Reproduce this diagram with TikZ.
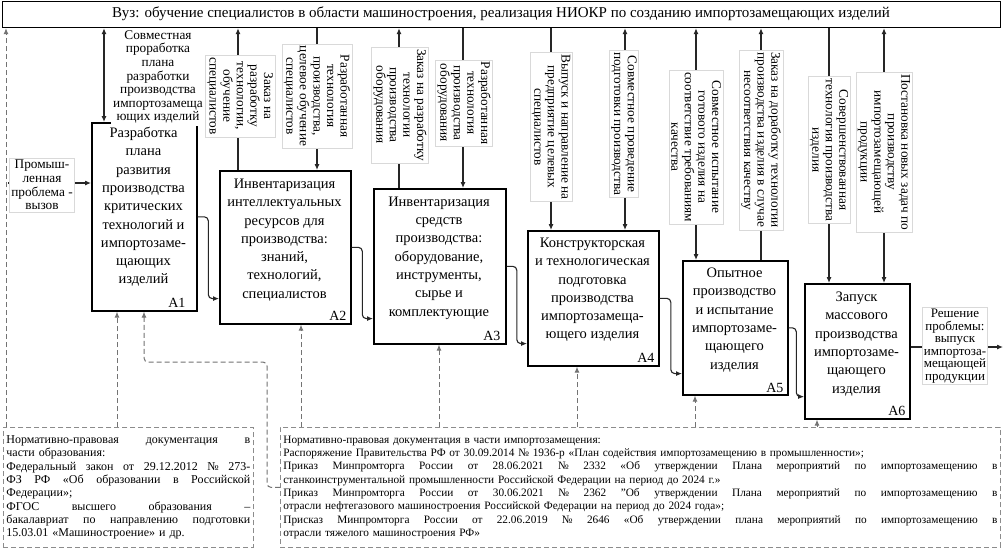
\documentclass[tikz,border=0pt]{standalone}
\usepackage{fontspec}
\setmainfont{Liberation Serif}
\usetikzlibrary{arrows.meta,calc}
\newcommand\jl[1]{\hbox to \hsize{\spaceskip=0.25em plus 1fil\relax #1}}
\begin{document}
\begin{tikzpicture}[x=1pt,y=-1pt,
  proc/.style={draw, line width=1.6pt, fill=white, inner sep=0pt, anchor=north west},
  ptext/.style={align=center, font=\fontsize{14.5}{18.3}\selectfont, inner sep=0pt},
  tag/.style={font=\fontsize{14}{14}\selectfont, anchor=south east, inner sep=0pt},
  lab/.style={fill=white, draw=black!15, line width=0.4pt, align=center, font=\fontsize{13.3}{13.6}\selectfont, inner sep=2pt},
  vlab/.style={lab, rotate=-90},
  flow/.style={line width=1.1pt, draw=black!85, rounded corners=4pt},
  tip/.style={-{Latex[length=6pt,width=5pt]}},
  both/.style={{Latex[length=6pt,width=5pt]}-{Latex[length=6pt,width=5pt]}},
  mech/.style={draw=black!55, line width=1pt, dash pattern=on 5pt off 3pt, rounded corners=4pt},
  norm/.style={draw=black!45, line width=0.8pt, dash pattern=on 5pt off 3pt, anchor=north west, inner sep=3pt, align=left, font=\fontsize{11.3}{13.3}\selectfont}
]
\useasboundingbox[fill=white] (0,0) rectangle (1004,550);

% top box
\node[proc, line width=1.2pt, minimum width=998pt, minimum height=26pt] (top) at (2,1) {};
\node[font=\fontsize{15}{15}\selectfont, inner sep=0pt] (toptext) at (501,14) {Вуз: обучение специалистов в области машиностроения, реализация НИОКР по созданию импортозамещающих изделий};

% process boxes
\node[proc, minimum width=105pt, minimum height=188pt] (A1) at (91,122) {};
\node[proc, minimum width=131pt, minimum height=153pt] (A2) at (219,170) {};
\node[proc, minimum width=132pt, minimum height=155pt] (A3) at (373,188) {};
\node[proc, minimum width=131pt, minimum height=135pt] (A4) at (527,230) {};
\node[proc, minimum width=105pt, minimum height=134pt] (A5) at (682,260) {};
\node[proc, minimum width=105pt, minimum height=135pt] (A6) at (804,283) {};

\node[ptext] (A1t) at (143.5,207) {Разработка\\плана\\развития\\производства\\критических\\технологий и\\импортозаме-\\щающих\\изделий};
\node[ptext] (A2t) at (284.5,240) {Инвентаризация\\интеллектуальных\\ресурсов для\\производства:\\знаний,\\технологий,\\специалистов};
\node[ptext] (A3t) at (439,258) {Инвентаризация\\средств\\производства:\\оборудование,\\инструменты,\\сырье и\\комплектующие};
\node[ptext] (A4t) at (592.5,290) {Конструкторская\\и технологическая\\подготовка\\производства\\импортозамеща-\\ющего изделия};
\node[ptext] (A5t) at (734.5,320) {Опытное\\производство\\и испытание\\импортозаме-\\щающего\\изделия};
\node[ptext] (A6t) at (856.5,344) {Запуск\\массового\\производства\\импортозаме-\\щающего\\изделия};

\node[tag] (T1) at ([xshift=-12pt,yshift=4pt]A1.south east) {A1};
\node[tag] (T2) at ([xshift=-5pt,yshift=4pt]A2.south east) {A2};
\node[tag] (T3) at ([xshift=-6pt,yshift=4pt]A3.south east) {A3};
\node[tag] (T4) at ([xshift=-5pt,yshift=4pt]A4.south east) {A4};
\node[tag] (T5) at ([xshift=-5pt,yshift=3pt]A5.south east) {A5};
\node[tag] (T6) at ([xshift=-5pt,yshift=4pt]A6.south east) {A6};

% flow between processes
\coordinate (i2) at ([yshift=26pt]A2.south west);
\coordinate (i3) at ([yshift=26pt]A3.south west);
\coordinate (i4) at ([yshift=23pt]A4.south west);
\coordinate (i5) at ([yshift=22pt]A5.south west);
\coordinate (i6) at ([yshift=23pt]A6.south west);
\coordinate (m12) at ($(A1.east)!.5!(A2.west)$);
\coordinate (m23) at ($(A2.east)!.5!(A3.west)$);
\coordinate (m34) at ($(A3.east)!.5!(A4.west)$);
\coordinate (m45) at ($(A4.east)!.5!(A5.west)$);
\coordinate (m56) at ($(A5.east)!.5!(A6.west)$);
\draw[flow,tip] (A1.east) -- (m12 |- A1.east) -- (m12 |- i2) -- (i2);
\draw[flow,tip] (A2.east) -- (m23 |- A2.east) -- (m23 |- i3) -- (i3);
\draw[flow,tip] (A3.east) -- (m34 |- A3.east) -- (m34 |- i4) -- (i4);
\draw[flow,tip] (A4.east) -- (m45 |- A4.east) -- (m45 |- i5) -- (i5);
\draw[flow,tip] (A5.east) -- (m56 |- A5.east) -- (m56 |- i6) -- (i6);

% input and output
\coordinate (in0) at (8,183);
\draw[flow,tip] (in0) -- (A1.west |- in0);
\node[lab] (inl) at (42,185) {Промыш-\\ленная\\проблема -\\вызов};
\coordinate (out0) at (1003,347);
\draw[flow,tip] (A6.east |- out0) -- (out0);
\node[lab, font=\fontsize{13}{12.5}\selectfont, inner sep=1.5pt] (outl) at (955,346) {Решение\\проблемы:\\выпуск\\импортоза-\\мещающей\\продукции};

% vertical connectors with the top box
\coordinate (c1) at (104,0);
\coordinate (c2) at (238,0);
\coordinate (c3) at (317,0);
\coordinate (c4) at (399,0);
\coordinate (c5) at (463,0);
\coordinate (c6) at (551,0);
\coordinate (c7) at (625,0);
\coordinate (c8) at (696,0);
\coordinate (c9) at (761,0);
\coordinate (c10) at (829,0);
\coordinate (c11) at (884,0);
\draw[flow,both] (c1 |- top.south) -- (c1 |- A1.north);
\draw[flow,tip] (c2 |- A2.north) -- (c2 |- top.south);
\draw[flow,tip] (c3 |- top.south) -- (c3 |- A2.north);
\draw[flow,tip] (c4 |- A3.north) -- (c4 |- top.south);
\draw[flow,tip] (c5 |- top.south) -- (c5 |- A3.north);
\draw[flow,tip] (c6 |- top.south) -- (c6 |- A4.north);
\draw[flow,both] (c7 |- top.south) -- (c7 |- A4.north);
\draw[flow,both] (c8 |- top.south) -- (c8 |- A5.north);
\draw[flow,tip] (c9 |- A5.north) -- (c9 |- top.south);
\draw[flow,tip] (c10 |- top.south) -- (c10 |- A6.north);
\draw[flow,both] (c11 |- top.south) -- (c11 |- A6.north);

\node[lab, draw=none] (L1) at (158,77) {Совместная\\проработка\\плана\\разработки\\производства\\импортозамеща\\ющих изделий};
\node[vlab] (L2) at (240,96) {Заказ на\\разработку\\технологии,\\обучение\\специалистов};
\node[vlab] (L3) at (317,96) {Разработанная\\технология\\производства,\\целевое обучение\\специалистов};
\node[vlab] (L4) at (400,105) {Заказ на разработку\\технологии\\производства\\оборудования};
\node[vlab] (L5) at (464,103) {Разработанная\\технология\\производства\\оборудования};
\node[vlab] (L6) at (551,127) {Выпуск и направление на\\предприятие целевых\\специалистов};
\node[vlab] (L7) at (624,124) {Совместное проведение\\подготовки производства};
\node[vlab] (L8) at (696,147) {Совместное испытание\\готового изделия на\\соответствие требованиям\\качества};
\node[vlab] (L9) at (761,140) {Заказ на доработку технологии\\производства изделия в случае\\несоответствия качеству};
\node[vlab] (L10) at (829,150) {Совершенствованная\\технология производства\\изделия};
\node[vlab] (L11) at (884,152) {Постановка новых задач по\\производству\\импортозамещающей\\продукции};

% normative boxes
\node[norm, font=\fontsize{12}{13.3}\selectfont, text width=244pt, minimum height=120pt] (edu) at (3,427) {%
\jl{Нормативно-правовая документация в}
части образования:\\
\jl{Федеральный закон от 29.12.2012 № 273-}
\jl{ФЗ РФ «Об образовании в Российской}
Федерации»;\\
\jl{ФГОС высшего образования –}
\jl{бакалавриат по направлению подготовки}
15.03.01 «Машиностроение» и др.};
\node[norm, text width=714pt, minimum height=120pt] (imp) at (280,427) {%
Нормативно-правовая документация в части импортозамещения:\\
Распоряжение Правительства РФ от 30.09.2014 № 1936-р «План содействия импортозамещению в промышленности»;\\
\jl{Приказ Минпромторга России от 28.06.2021 № 2332 «Об утверждении Плана мероприятий по импортозамещению в}
станкоинструментальной промышленности Российской Федерации на период до 2024 г.»\\
\jl{Приказ Минпромторга России от 30.06.2021 № 2362 "Об утверждении Плана мероприятий по импортозамещению в}
отрасли нефтегазового машиностроения Российской Федерации на период до 2024 года»;\\
\jl{Присказ Минпромторга России от 22.06.2019 № 2646 «Об утверждении плана мероприятий по импортозамещению в}
отрасли тяжелого машиностроения РФ»};

% mechanism (dashed) arrows
\coordinate (d0) at (6,0);
\coordinate (d1) at (117,0);
\coordinate (d2) at (144,0);
\coordinate (k2) at (267,362);
\coordinate (d3) at (301,0);
\coordinate (d4) at (439,0);
\coordinate (d5) at (577,0);
\coordinate (d6) at (695,0);
\coordinate (d7) at (817,0);
\draw[mech,tip] (d0 |- edu.north) -- (d0 |- top.south);
\draw[mech,tip] (d1 |- edu.north) -- (d1 |- A1.south);
\draw[mech,tip] (imp.west) -- (k2 |- imp.west) -- (k2) -- (d2 |- k2) -- (d2 |- A1.south);
\draw[mech,tip] (d3 |- imp.north) -- (d3 |- A2.south);
\draw[mech,tip] (d4 |- imp.north) -- (d4 |- A3.south);
\draw[mech,tip] (d5 |- imp.north) -- (d5 |- A4.south);
\draw[mech,tip] (d6 |- imp.north) -- (d6 |- A5.south);
\draw[mech,tip] (d7 |- imp.north) -- (d7 |- A6.south);
\end{tikzpicture}
\end{document}
